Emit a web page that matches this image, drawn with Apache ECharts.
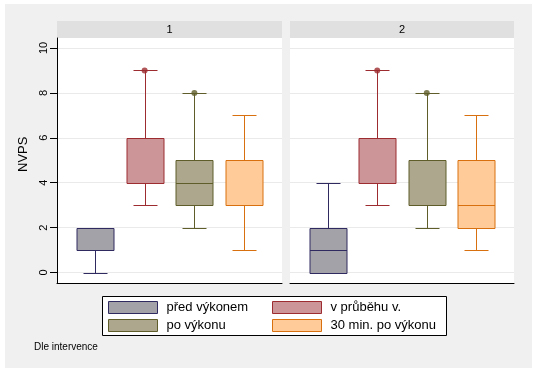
<!DOCTYPE html>
<html>
<head>
<meta charset="utf-8">
<script src="https://cdn.jsdelivr.net/npm/echarts@6/dist/echarts.min.js"></script>
<style>
  html, body { margin: 0; padding: 0; background: #fff; }
  #chart { width: 538px; height: 374px; }
</style>
</head>
<body>
<div id="chart"></div>
<script>
// skupiny (legenda) a panely
const categories = ['před výkonem', 'v průběhu v.', 'po výkonu', '30 min. po výkonu']
const panels = ['1', '2']

// [dolní vous, Q1, medián, Q3, horní vous] pro každou skupinu
const panel1Boxes = [
  [0, 1, 2, 2, 2],
  [3, 4, 4, 6, 9],
  [2, 3, 4, 5, 8],
  [1, 3, 3, 5, 7],
]
const panel2Boxes = [
  [0, 0, 1, 2, 4],
  [3, 4, 4, 6, 9],
  [2, 3, 3, 5, 8],
  [1, 2, 3, 5, 7],
]
// odlehlé hodnoty: [index skupiny, hodnota]
const panel1Outliers = [[1, 9], [2, 8]]
const panel2Outliers = [[1, 9], [2, 8]]

const yTicks = [0, 2, 4, 6, 8, 10]

const fills = ['#a3a2a8', '#cc9598', '#aca78d', '#ffcc99']
const strokes = ['#2f2b60', '#9c2c30', '#5f5e2a', '#d9700f']
const FONT = "'Liberation Sans', Arial, sans-serif"

const BOX_W = 0.75
const CAP_W = 0.49

const px = (v) => Math.round(v) + 0.5

const makeRenderItem = (c) => (params, api) => {
  const x = api.value(0)
  const low = api.coord([x, api.value(1)])
  const q1 = api.coord([x, api.value(2)])
  const med = api.coord([x, api.value(3)])
  const q3 = api.coord([x, api.value(4)])
  const high = api.coord([x, api.value(5)])
  const boxW = Math.round(api.size([BOX_W, 0])[0])
  const capW = Math.round(api.size([CAP_W, 0])[0])
  const cx = px(low[0])
  const line = (x1, y1, x2, y2) => ({
    type: 'line',
    shape: { x1, y1, x2, y2 },
    style: { stroke: strokes[c], lineWidth: 1 },
  })
  return {
    type: 'group',
    children: [
      line(cx, px(q3[1]), cx, px(high[1])),
      line(cx, px(q1[1]), cx, px(low[1])),
      line(cx - capW / 2, px(high[1]), cx + capW / 2, px(high[1])),
      line(cx - capW / 2, px(low[1]), cx + capW / 2, px(low[1])),
      {
        type: 'rect',
        shape: { x: cx - boxW / 2, y: px(q3[1]), width: boxW, height: Math.round(q1[1]) - Math.round(q3[1]) },
        style: { fill: fills[c], stroke: strokes[c], lineWidth: 1 },
      },
      line(cx - boxW / 2, px(med[1]), cx + boxW / 2, px(med[1])),
    ],
  }
}

const panelBoxes = [panel1Boxes, panel2Boxes]
const panelOutliers = [panel1Outliers, panel2Outliers]

const series = []
panels.forEach((p, pi) => {
  categories.forEach((name, c) => {
    series.push({
      type: 'custom',
      name,
      xAxisIndex: pi * 2 + 1,
      yAxisIndex: pi * 2 + 1,
      itemStyle: { color: fills[c], borderColor: strokes[c], borderWidth: 1 },
      encode: { x: 0, y: [1, 2, 3, 4, 5] },
      data: [[c + 1, ...panelBoxes[pi][c]]],
      renderItem: makeRenderItem(c),
      z: 3,
    })
  })
  series.push({
    type: 'scatter',
    name: 'outliers',
    xAxisIndex: pi * 2 + 1,
    yAxisIndex: pi * 2 + 1,
    symbolSize: 6,
    z: 4,
    data: panelOutliers[pi].map(([c, v]) => ({
      value: [c + 1, v],
      itemStyle: { color: strokes[c] },
    })),
  })
})

// panely: vnější mřížka (pozadí, osy) a vnitřní (data 0..10)
const panelLeft = [57, 290]
const panelWidth = [225, 224]

const grids = []
const xAxes = []
const yAxes = []
panels.forEach((p, pi) => {
  grids.push({
    left: panelLeft[pi], top: 38, width: panelWidth[pi], height: 245,
    show: true, backgroundColor: '#ffffff', borderWidth: 0,
  })
  grids.push({ left: panelLeft[pi], top: 48, width: panelWidth[pi], height: 224.5 })

  xAxes.push({
    type: 'value', gridIndex: pi * 2, min: 0, max: 1,
    axisLine: { show: true, lineStyle: { color: '#000', width: 1 } },
    axisTick: { show: false }, axisLabel: { show: false }, splitLine: { show: false },
  })
  xAxes.push({
    type: 'value', gridIndex: pi * 2 + 1, min: 0.24, max: 4.76, show: false,
  })
  yAxes.push({
    type: 'value', gridIndex: pi * 2, min: 0, max: 1,
    axisLine: { show: pi === 0, lineStyle: { color: '#000', width: 1 } },
    axisTick: { show: false }, axisLabel: { show: false }, splitLine: { show: false },
  })
  yAxes.push({
    type: 'value', gridIndex: pi * 2 + 1, min: yTicks[0], max: yTicks[yTicks.length - 1], interval: 2,
    name: pi === 0 ? 'NVPS' : '',
    nameLocation: 'middle',
    nameRotate: 90,
    nameGap: 27,
    nameTextStyle: { fontFamily: FONT, fontSize: 13, color: '#000', padding: [0, 0, 0, 12] },
    axisLine: { show: false },
    axisTick: { show: pi === 0, length: 7, lineStyle: { color: '#000' } },
    axisLabel: { show: pi === 0, rotate: 90, fontFamily: FONT, fontSize: 11, color: '#000', margin: 8 },
    splitLine: { show: true, lineStyle: { color: '#eaeaea', width: 1 } },
  })
})

const chart = echarts.init(document.getElementById('chart'))
chart.setOption({
  animation: false,
  backgroundColor: '#ffffff',
  graphic: [
    { type: 'rect', z: -10, shape: { x: 5, y: 4, width: 527, height: 364 }, style: { fill: '#f0f0f0' } },
    { type: 'rect', shape: { x: 57, y: 21, width: 225, height: 17 }, style: { fill: '#e0e0e0' } },
    { type: 'rect', shape: { x: 290, y: 21, width: 224, height: 17 }, style: { fill: '#e0e0e0' } },
    { type: 'text', x: 169.5, y: 30, style: { text: panels[0], font: `11px ${FONT}`, fill: '#000', align: 'center', verticalAlign: 'middle' } },
    { type: 'text', x: 402, y: 30, style: { text: panels[1], font: `11px ${FONT}`, fill: '#000', align: 'center', verticalAlign: 'middle' } },
    { type: 'rect', shape: { x: 102.5, y: 296.5, width: 344, height: 39 }, style: { fill: '#ffffff', stroke: '#000', lineWidth: 1 } },
    { type: 'text', x: 34, y: 347, style: { text: 'Dle intervence', font: `10px ${FONT}`, fill: '#000', verticalAlign: 'middle' } },
  ],
  grid: grids,
  xAxis: xAxes,
  yAxis: yAxes,
  legend: [
    {
      orient: 'vertical', left: 108, top: 301, padding: 0,
      itemWidth: 49, itemHeight: 12, itemGap: 5, selectedMode: false,
      textStyle: { fontFamily: FONT, fontSize: 13, color: '#000', padding: [0, 0, 0, 4] },
      data: [0, 2].map((c) => ({ name: categories[c], icon: 'rect', itemStyle: { color: fills[c], borderColor: strokes[c], borderWidth: 1 } })),
    },
    {
      orient: 'vertical', left: 272, top: 301, padding: 0,
      itemWidth: 49, itemHeight: 12, itemGap: 5, selectedMode: false,
      textStyle: { fontFamily: FONT, fontSize: 13, color: '#000', padding: [0, 0, 0, 4] },
      data: [1, 3].map((c) => ({ name: categories[c], icon: 'rect', itemStyle: { color: fills[c], borderColor: strokes[c], borderWidth: 1 } })),
    },
  ],
  series,
})
</script>
</body>
</html>
